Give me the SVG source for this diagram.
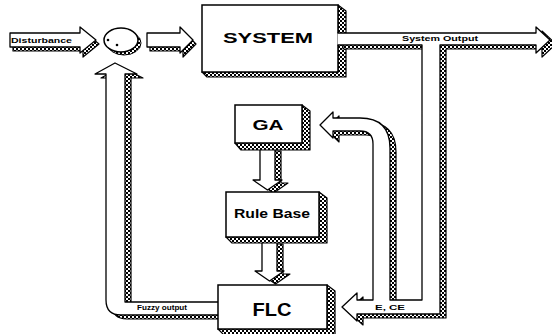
<svg xmlns="http://www.w3.org/2000/svg" width="552" height="334" viewBox="0 0 552 334">
<defs>
<pattern id="hat" width="4" height="4" patternUnits="userSpaceOnUse"><rect width="4" height="4" fill="#fff"/><rect width="2" height="2" fill="#000"/><rect x="2" y="2" width="2" height="2" fill="#000"/></pattern>
</defs>
<style>
.sh{fill:url(#hat);stroke:#000;stroke-width:1.2;stroke-linejoin:round}
.bx{fill:#fff;stroke:#000;stroke-width:1.5}
.ar{fill:#fff;stroke:#000;stroke-width:1.3;stroke-linejoin:round}
.t{font-family:"Liberation Sans",Arial,sans-serif;font-weight:bold;fill:#000}
.s{font-size:7.5px}
</style>
<rect width="552" height="334" fill="#fff"/>
<g id="system">
<path class="sh" d="M338,5 L346,11 L346,77 L207,77 L202,72 L338,72 Z"/>
<rect class="bx" x="202" y="5" width="136" height="67"/>
<text class="t" x="268" y="43" font-size="15" text-anchor="middle" textLength="90" lengthAdjust="spacingAndGlyphs">SYSTEM</text>
</g>
<g id="connectors">
<path class="sh" d="M13,37 L83,37 L83,31 L99,44 L83,57 L83,51 L13,51 Z"/>
<path class="ar" d="M10,33 L80,33 L80,27 L96,40 L80,53 L80,47 L10,47 Z"/>
<text class="t s" x="11" y="43" textLength="61" lengthAdjust="spacingAndGlyphs">Disturbance</text>
<path class="sh" d="M150,37 L183,37 L183,31 L196,44 L183,57 L183,51 L150,51 Z"/>
<path class="ar" d="M147,33 L180,33 L180,27 L193,40 L180,53 L180,47 L147,47 Z"/>
<g transform="translate(6,4)"><path class="sh" d="M337,33 L536,33 L536,27 L550,40 L536,53 L536,45 L440,45 L440,314 L357,314 L357,321 L342,307 L357,293 L357,300 L373,300 L373,144 Q373,131 360,131 L333,131 L333,138 L320,125 L333,112 L333,118 L360,118 Q390,118 390,148 L390,300 L422,300 L422,45 L337,45 Z"/></g>
<path class="ar" d="M337.5,33 L536,33 L536,27 L550,40 L536,53 L536,45 L440,45 L440,314 L357,314 L357,321 L342,307 L357,293 L357,300 L373,300 L373,144 Q373,131 360,131 L333,131 L333,138 L320,125 L333,112 L333,118 L360,118 Q390,118 390,148 L390,300 L422,300 L422,45 L337.5,45"/>
<text class="t s" x="402" y="41" textLength="76" lengthAdjust="spacingAndGlyphs">System Output</text>
<text class="t s" x="375" y="310" textLength="30" lengthAdjust="spacingAndGlyphs">E, CE</text>
<g transform="translate(6,4)"><path class="sh" d="M225,302 L125,302 L125,74 L137,74 L115,63 L95,74 L106,74 L106,300 Q106,315 121,315 L225,315 Z"/></g>
<path class="ar" d="M225,302 L125,302 L125,74 L137,74 L115,63 L95,74 L106,74 L106,300 Q106,315 121,315 L225,315"/>
<text class="t s" x="137" y="310" textLength="50" lengthAdjust="spacingAndGlyphs">Fuzzy output</text>
<path class="sh" d="M266,151 L281,151 L281,183 L288,183 L273.5,193 L259,183 L266,183 Z"/>
<path class="ar" d="M260,148 L275,148 L275,180 L282,180 L267.5,190 L253,180 L260,180 Z"/>
<path class="sh" d="M268,244 L283,244 L283,274 L290,274 L275.5,284 L261,274 L268,274 Z"/>
<path class="ar" d="M262,241 L277,241 L277,271 L284,271 L269.5,281 L255,271 L262,271 Z"/>
</g>
<g id="sum">
<ellipse cx="124" cy="43" rx="17" ry="12" fill="url(#hat)" stroke="#000"/>
<ellipse cx="121" cy="40" rx="17" ry="12" class="bx"/>
<circle cx="108" cy="40" r="1.3" fill="#000"/>
<circle cx="117" cy="45" r="1.3" fill="#000"/>
</g>
<g id="ga">
<path class="sh" d="M302,105 L310,111 L310,150 L241,150 L235,143 L302,143 Z"/>
<rect class="bx" x="235" y="105" width="67" height="38"/>
<text class="t" x="268" y="130" font-size="14" text-anchor="middle" textLength="31" lengthAdjust="spacingAndGlyphs">GA</text>
</g>
<g id="rulebase">
<path class="sh" d="M319,192 L327,198 L327,243 L232,243 L226,237 L319,237 Z"/>
<rect class="bx" x="226" y="192" width="93" height="45"/>
<text class="t" x="272" y="218" font-size="13" text-anchor="middle" textLength="76" lengthAdjust="spacingAndGlyphs">Rule Base</text>
</g>
<g id="flc">
<path class="sh" d="M327,285 L335,291 L335,335 L224,335 L218,329 L327,329 Z"/>
<rect class="bx" x="218" y="285" width="109" height="44"/>
<text class="t" x="272" y="316" font-size="19" text-anchor="middle" textLength="39" lengthAdjust="spacingAndGlyphs">FLC</text>
</g>
</svg>
